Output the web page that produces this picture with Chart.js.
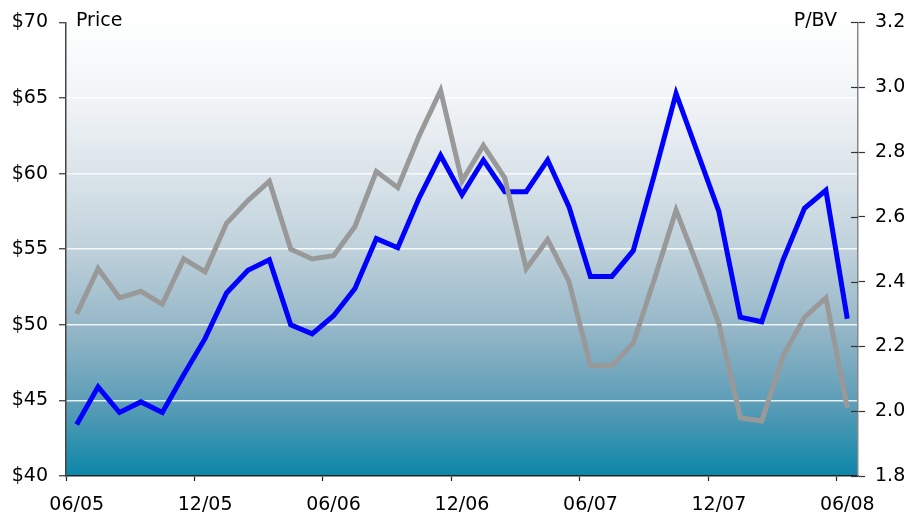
<!DOCTYPE html>
<html>
<head>
<meta charset="utf-8">
<title>Price and P/BV</title>
<script src="https://cdn.jsdelivr.net/npm/chart.js@4.4.1/dist/chart.umd.min.js"></script>
<style>
  html, body { margin: 0; padding: 0; background: #ffffff; }
  #wrap { width: 907px; height: 515px; position: relative; }
</style>
</head>
<body>
<div id="wrap"><canvas id="chart"></canvas></div>
<script>
// monthly points, 06/05 .. 06/08
const months = [
  '06/05', '07/05', '08/05', '09/05', '10/05', '11/05',
  '12/05', '01/06', '02/06', '03/06', '04/06', '05/06',
  '06/06', '07/06', '08/06', '09/06', '10/06', '11/06',
  '12/06', '01/07', '02/07', '03/07', '04/07', '05/07',
  '06/07', '07/07', '08/07', '09/07', '10/07', '11/07',
  '12/07', '01/08', '02/08', '03/08', '04/08', '05/08',
  '06/08'
];

const price = [
  43.4, 45.9, 44.2, 44.9, 44.2, 46.7, 49.1, 52.1, 53.6, 54.3,
  50.0, 49.4, 50.6, 52.4, 55.7, 55.1, 58.4, 61.2, 58.6, 60.9,
  58.8, 58.8, 60.9, 57.8, 53.2, 53.2, 54.9, 60.0, 65.3, 61.4,
  57.5, 50.5, 50.2, 54.3, 57.7, 58.9, 50.4
];

const pbv = [
  2.30, 2.44, 2.35, 2.37, 2.33, 2.47, 2.43, 2.58, 2.65, 2.71,
  2.50, 2.47, 2.48, 2.57, 2.74, 2.69, 2.85, 2.99, 2.71, 2.82,
  2.72, 2.44, 2.53, 2.40, 2.14, 2.14, 2.21, 2.41, 2.62, 2.45,
  2.27, 1.98, 1.97, 2.17, 2.29, 2.35, 2.01
];

const priceTicks = [40, 45, 50, 55, 60, 65, 70];
const pbvTicks = [1.8, 2.0, 2.2, 2.4, 2.6, 2.8, 3.0, 3.2];
const labelEvery = 6;

const FONT = { family: "'DejaVu Sans', sans-serif", size: 19 };

// gradient panel, axis captions and the inner half of the right-hand ticks
const decorations = {
  id: 'decorations',
  beforeDraw(chart) {
    const { ctx, chartArea: a } = chart;
    const g = ctx.createLinearGradient(0, a.top, 0, a.bottom);
    g.addColorStop(0, '#fdfefe');
    g.addColorStop(0.18, '#f0f3f6');
    g.addColorStop(0.33, '#dbe4ea');
    g.addColorStop(0.5, '#bfd1db');
    g.addColorStop(0.68, '#93b6c7');
    g.addColorStop(0.84, '#5c9db7');
    g.addColorStop(1, '#0c86a9');
    ctx.save();
    ctx.fillStyle = g;
    ctx.fillRect(a.left, a.top, a.right - a.left, a.bottom - a.top);
    ctx.restore();
  },
  afterDraw(chart) {
    const { ctx, chartArea: a } = chart;
    const y1 = chart.scales.y1;
    ctx.save();
    ctx.strokeStyle = '#333';
    ctx.lineWidth = 1.2;
    y1.ticks.forEach((t) => {
      const py = Math.round(y1.getPixelForValue(t.value)) + 0.5;
      ctx.beginPath();
      ctx.moveTo(a.right - 7, py);
      ctx.lineTo(a.right, py);
      ctx.stroke();
    });

    ctx.fillStyle = '#000';
    ctx.font = FONT.size + 'px ' + FONT.family;
    ctx.textBaseline = 'alphabetic';
    ctx.textAlign = 'left';
    ctx.fillText('Price', a.left + 10, 26);
    ctx.textAlign = 'right';
    ctx.fillText('P/BV', a.right - 21, 26);
    ctx.restore();
  }
};

const chart = new Chart(document.getElementById('chart'), {
  type: 'line',
  data: {
    labels: months,
    datasets: [
      {
        label: 'Price',
        data: price,
        yAxisID: 'y',
        borderColor: '#0000ff',
        borderWidth: 5,
        pointRadius: 0,
        tension: 0,
        order: 1,
      },
      {
        label: 'P/BV',
        data: pbv,
        yAxisID: 'y1',
        borderColor: '#999999',
        borderWidth: 5,
        pointRadius: 0,
        tension: 0,
        order: 0,
      },
    ],
  },
  options: {
    responsive: true,
    maintainAspectRatio: false,
    animation: false,
    layout: { padding: { top: 20, left: 0, right: 0, bottom: 0 } },
    plugins: {
      legend: { display: false },
      tooltip: { enabled: false },
    },
    scales: {
      x: {
        type: 'category',
        offset: true,
        afterFit: (scale) => { scale.height = 39; },
        grid: {
          offset: true,
          drawOnChartArea: false,
          tickLength: 5,
          tickWidth: 1.2,
          tickColor: (c) => (c.index !== undefined && c.index < months.length && c.index % labelEvery === 0 ? '#222' : 'rgba(0,0,0,0)'),
        },
        border: { display: true, color: '#222', width: 1.5 },
        ticks: {
          autoSkip: false,
          maxRotation: 0,
          minRotation: 0,
          padding: 13,
          color: '#000',
          font: FONT,
          callback: (v, i) => (i % labelEvery === 0 ? months[i] : ''),
        },
      },
      y: {
        position: 'left',
        min: priceTicks[0],
        max: priceTicks[priceTicks.length - 1],
        afterFit: (scale) => { scale.width = 66; },
        afterBuildTicks: (scale) => { scale.ticks = priceTicks.map((v) => ({ value: v })); },
        grid: {
          color: 'rgba(255,255,255,0.85)',
          lineWidth: 1.5,
          tickColor: '#333',
          tickLength: 7,
          tickWidth: 1.2,
        },
        border: { display: true, color: '#444', width: 1.5 },
        ticks: {
          padding: 11,
          color: '#000',
          font: FONT,
          callback: (v) => '$' + v,
        },
      },
      y1: {
        position: 'right',
        min: pbvTicks[0],
        max: pbvTicks[pbvTicks.length - 1],
        afterFit: (scale) => { scale.width = 49; },
        afterBuildTicks: (scale) => { scale.ticks = pbvTicks.map((v) => ({ value: v })); },
        grid: {
          drawOnChartArea: false,
          tickColor: '#333',
          tickLength: 7,
          tickWidth: 1.2,
        },
        border: { display: true, color: '#888', width: 1.5 },
        ticks: {
          padding: 10,
          color: '#000',
          font: FONT,
          callback: (v) => Number(v).toFixed(1),
        },
      },
    },
  },
  plugins: [decorations],
});
</script>
</body>
</html>
